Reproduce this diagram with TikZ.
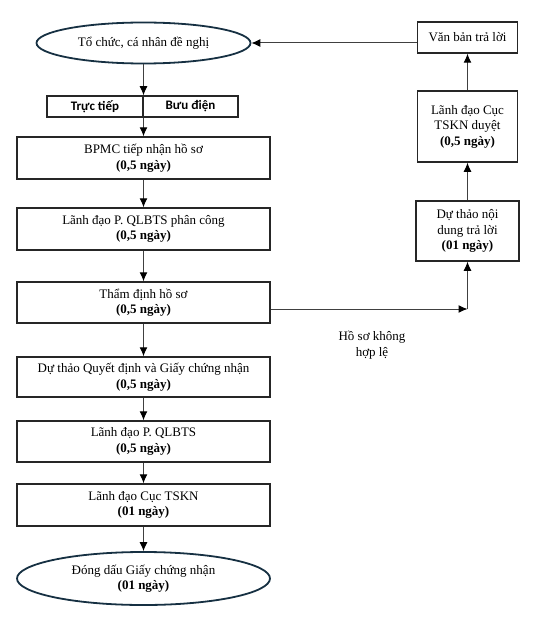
\documentclass[tikz,border=0pt]{standalone}
\usepackage{fontspec}
\setmainfont{Liberation Serif}
\newfontfamily\splitfont{Carlito}
\usetikzlibrary{shapes.geometric,arrows.meta}
\definecolor{navyc}{RGB}{22,48,66}
\begin{document}
\begin{tikzpicture}[x=1pt,y=-1pt,
  txt/.style={font=\fontsize{13}{15.5}\selectfont},
  box/.style={txt,draw=black!85,line width=1.5pt,minimum width=253pt,minimum height=42pt,align=center,inner sep=1pt},
  rbox/.style={box,minimum width=100pt},
  oval/.style={txt,ellipse,draw=navyc,line width=1.8pt,align=center,inner sep=0pt},
  half/.style={draw=black!85,line width=1.5pt,minimum height=21pt,inner sep=0pt,font=\splitfont\bfseries\fontsize{13}{15}\selectfont},
  conn/.style={draw=black!75,line width=1pt,-{Latex[length=9pt,width=8pt,color=black]}}]
\useasboundingbox (0,0) rectangle (550,623);

\node[oval,minimum width=214pt,minimum height=41pt] (e1) at (143.5,43) {Tổ chức, cá nhân đề nghị};
\node[half,minimum width=96pt] (s1) at (95,106.5) {Trực tiếp};
\node[half,minimum width=95pt] (s2) at (190.5,106.5) {Bưu điện};
\node[box] (b1) at (143.5,158) {BPMC tiếp nhận hồ sơ\\\textbf{(0,5 ngày)}};
\node[box] (b2) at (143.5,229) {Lãnh đạo P. QLBTS phân công\\\textbf{(0,5 ngày)}};
\node[box,minimum height=41pt] (b3) at (143.5,302.5) {Thẩm định hồ sơ\\\textbf{(0,5 ngày)}};
\node[box,minimum height=40pt] (b4) at (143.5,377) {Dự thảo Quyết định và Giấy chứng nhận\\\textbf{(0,5 ngày)}};
\node[box,minimum height=41pt] (b5) at (143.5,441.5) {Lãnh đạo P. QLBTS\\\textbf{(0,5 ngày)}};
\node[box] (b6) at (143.5,505) {Lãnh đạo Cục TSKN\\\textbf{(01 ngày)}};
\node[oval,minimum width=253pt,minimum height=53pt] (e2) at (143.5,578.5) {Đóng dấu Giấy chứng nhận\\\textbf{(01 ngày)}};

\node[rbox,minimum height=31pt] (r1) at (467.5,37.5) {Văn bản trả lời};
\node[rbox,minimum height=71pt] (r2) at (467.5,126.5) {Lãnh đạo Cục\\TSKN duyệt\\\textbf{(0,5 ngày)}};
\node[rbox,minimum width=103pt,minimum height=60pt] (r3) at (467.5,231) {Dự thảo nội\\dung trả lời\\\textbf{(01 ngày)}};

\node[txt,align=center] (lb) at (372,345) {Hồ sơ không\\hợp lệ};

\coordinate (cn) at (467.5,309);

\draw[conn] (e1.south) -- (e1.south |- s1.north);
\draw[conn] (b1.north |- s1.south) -- (b1.north);
\draw[conn] (b1) -- (b2);
\draw[conn] (b2) -- (b3);
\draw[conn] (b3) -- (b4);
\draw[conn] (b4) -- (b5);
\draw[conn] (b5) -- (b6);
\draw[conn] (b6) -- (e2);
\draw[conn] (b3.east |- cn) -- (cn);
\draw[conn] (cn) -- (r3.south);
\draw[conn] (r3) -- (r2);
\draw[conn] (r2) -- (r1);
\draw[conn] (r1.west |- e1.east) -- (e1.east);
\end{tikzpicture}
\end{document}
